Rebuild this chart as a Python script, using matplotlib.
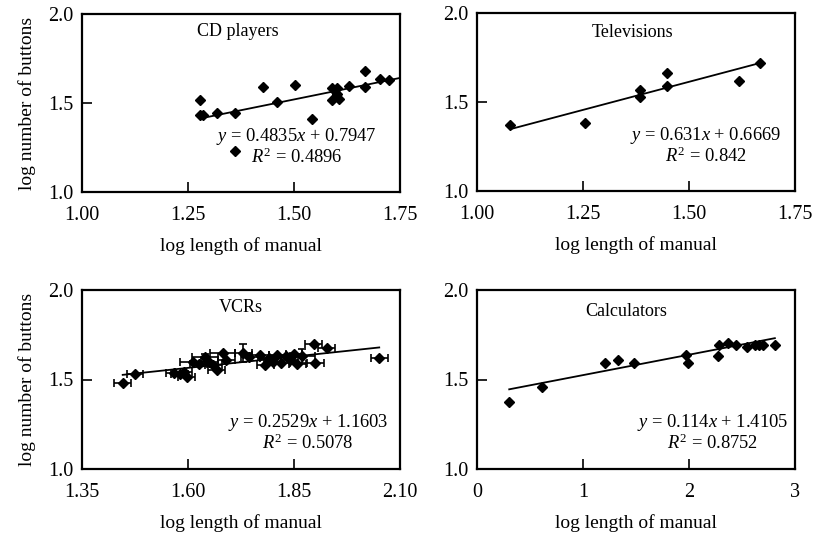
import numpy as np
import matplotlib
matplotlib.use("Agg")
import matplotlib.pyplot as plt

plt.rcParams['font.family'] = ['Liberation Serif', 'DejaVu Serif']
plt.rcParams['mathtext.fontset'] = 'custom'
plt.rcParams['mathtext.rm'] = 'Liberation Serif'
plt.rcParams['mathtext.it'] = 'Liberation Serif:italic'

# CD players
cd_x = [1.278, 1.278, 1.285, 1.319, 1.362, 1.362, 1.428, 1.461, 1.503, 1.542,
        1.589, 1.589, 1.601, 1.601, 1.605, 1.630, 1.667, 1.667, 1.704, 1.725]
cd_y = [1.517, 1.433, 1.430, 1.442, 1.442, 1.232, 1.588, 1.504, 1.599, 1.412,
        1.583, 1.517, 1.583, 1.550, 1.525, 1.596, 1.681, 1.588, 1.633, 1.629]
cd_fit = (0.4835, 0.7947, 1.278, 1.75)

# Televisions
tv_x = [1.079, 1.255, 1.384, 1.384, 1.448, 1.448, 1.617, 1.668]
tv_y = [1.371, 1.382, 1.567, 1.530, 1.664, 1.590, 1.620, 1.717]
tv_fit = (0.631, 0.6669, 1.079, 1.668)

# VCRs (with error bars)
vcr_x = [1.446, 1.475, 1.568, 1.580, 1.590, 1.597, 1.612, 1.625, 1.640, 1.650,
         1.660, 1.668, 1.682, 1.690, 1.730, 1.745, 1.770, 1.782, 1.790, 1.800,
         1.810, 1.820, 1.830, 1.840, 1.850, 1.858, 1.870, 1.897, 1.900, 1.927, 2.051]
vcr_y = [1.479, 1.531, 1.535, 1.532, 1.540, 1.515, 1.600, 1.585, 1.625, 1.600,
         1.580, 1.555, 1.646, 1.610, 1.650, 1.625, 1.635, 1.580, 1.620, 1.600,
         1.635, 1.590, 1.630, 1.610, 1.640, 1.585, 1.630, 1.698, 1.592, 1.674, 1.618]
vcr_xerr = [0.02, 0.02, 0.02, 0.02, 0.02, 0.02, 0.03, 0.02, 0.03, 0.02,
            0.02, 0.02, 0.03, 0.02, 0.02, 0.02, 0.02, 0.02, 0.02, 0.02,
            0.02, 0.02, 0.02, 0.02, 0.02, 0.02, 0.03, 0.02, 0.02, 0.02, 0.02]
vcr_yerr = [0, 0, 0, 0, 0, 0, 0, 0, 0.02, 0,
            0, 0, 0, 0, 0.05, 0, 0, 0, 0, 0,
            0, 0, 0, 0, 0, 0, 0.04, 0, 0, 0, 0]
vcr_fit = (0.2529, 1.1603, 1.446, 2.051)

# Calculators
calc_x = [0.304, 0.614, 1.206, 1.333, 1.485, 1.975, 1.99, 2.27, 2.28, 2.37,
          2.44, 2.545, 2.62, 2.66, 2.70, 2.81]
calc_y = [1.376, 1.46, 1.59, 1.609, 1.59, 1.635, 1.59, 1.63, 1.69, 1.706,
          1.69, 1.684, 1.69, 1.69, 1.69, 1.69]
calc_fit = (0.114, 1.4105, 0.304, 2.81)

titles = ["CD players", "Televisions", "VCRs", "Calculators"]
eqs = [(r"$y$ = 0.4835$x$ + 0.7947", r"$R^2$ = 0.4896"),
       (r"$y$ = 0.631$x$ + 0.6669", r"$R^2$ = 0.842"),
       (r"$y$ = 0.2529$x$ + 1.1603", r"$R^2$ = 0.5078"),
       (r"$y$ = 0.114$x$ + 1.4105", r"$R^2$ = 0.8752")]
xticks = [[1.00, 1.25, 1.50, 1.75], [1.00, 1.25, 1.50, 1.75],
          [1.35, 1.60, 1.85, 2.10], [0, 1, 2, 3]]
xticklabels = [["1.00", "1.25", "1.50", "1.75"], ["1.00", "1.25", "1.50", "1.75"],
               ["1.35", "1.60", "1.85", "2.10"], ["0", "1", "2", "3"]]
yticks = [1.0, 1.5, 2.0]
yticklabels = ["1.0", "1.5", "2.0"]

W, H = 814, 537
fig = plt.figure(figsize=(W/100, H/100), dpi=100)

def px_axes(l, t, r, b):
    return fig.add_axes([l/W, 1-b/H, (r-l)/W, (b-t)/H])

boxes = [(82, 14, 400, 192), (477, 13, 795, 191),
         (82, 290, 400, 469), (477, 290, 795, 469)]
# equation block centre in axes fraction
eq_pos = [(0.675, 0.31), (0.72, 0.31), (0.71, 0.26), (0.74, 0.26)]
title_pos = [(0.49, 0.90), (0.49, 0.89), (0.5, 0.90), (0.47, 0.88)]

sets = [(cd_x, cd_y, None, None, cd_fit),
        (tv_x, tv_y, None, None, tv_fit),
        (vcr_x, vcr_y, vcr_xerr, vcr_yerr, vcr_fit),
        (calc_x, calc_y, None, None, calc_fit)]

fs = 13.3
for i, (box, (x, y, xe, ye, fit)) in enumerate(zip(boxes, sets)):
    ax = px_axes(*box)
    if xe is not None:
        ax.errorbar(x, y, xerr=xe, yerr=ye, fmt='D', color='black', ms=5.5,
                    elinewidth=1.2, capsize=3, capthick=1.2)
    else:
        ax.plot(x, y, 'D', color='black', ms=5.5)
    slope, icpt, x0, x1 = fit
    fx = np.array([x0, x1])
    ax.plot(fx, slope*fx + icpt, color='black', lw=1.3)
    ax.set_xlim(xticks[i][0], xticks[i][-1])
    ax.set_ylim(1.0, 2.0)
    ax.set_xticks(xticks[i])
    ax.set_xticklabels(xticklabels[i])
    ax.set_yticks(yticks)
    ax.set_yticklabels(yticklabels)
    ax.tick_params(direction='in', length=7, width=1.2, labelsize=14.5, pad=6)
    ax.tick_params(axis='x', pad=10)
    for s in ax.spines.values():
        s.set_linewidth(1.6)
    ax.text(title_pos[i][0], title_pos[i][1], titles[i], transform=ax.transAxes,
            ha='center', va='center', fontsize=13)
    ex, ey = eq_pos[i]
    ax.text(ex, ey, eqs[i][0], transform=ax.transAxes, ha='center', va='center', fontsize=fs)
    ax.text(ex, ey - 0.115, eqs[i][1], transform=ax.transAxes, ha='center', va='center', fontsize=fs)
    ax.set_xlabel("log length of manual", fontsize=14, labelpad=9)
    if i % 2 == 0:
        ax.set_ylabel("log number of buttons", fontsize=14, labelpad=9)

fig.savefig("out.png", dpi=100)
